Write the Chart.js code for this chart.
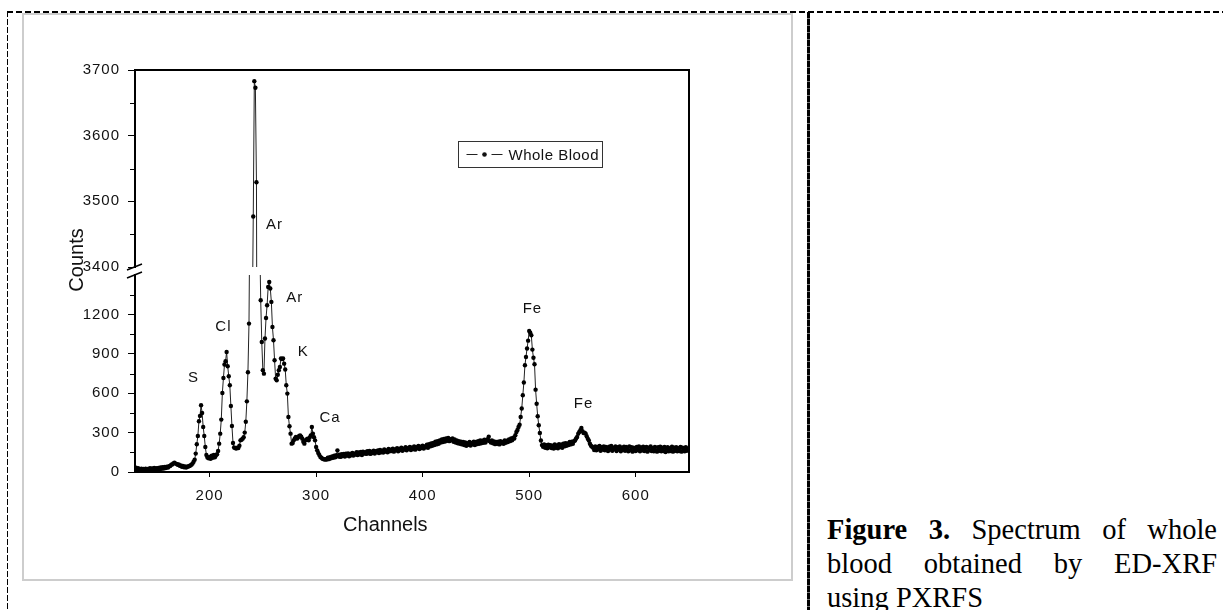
<!DOCTYPE html>
<html>
<head>
<meta charset="utf-8">
<script src="https://cdn.jsdelivr.net/npm/chart.js@4.4.1/dist/chart.umd.min.js"></script>
<style>
  html, body { margin: 0; padding: 0; background: #fff; }
  body { width: 1223px; height: 610px; position: relative; overflow: hidden; }
  .hdash { position: absolute; left: 7px; top: 11px; width: 1216px; height: 2px;
    background: repeating-linear-gradient(to right, #000 0 6px, transparent 6px 9px); }
  .vdash-left { position: absolute; left: 7px; top: 11px; width: 1px; height: 599px;
    background: repeating-linear-gradient(to bottom, #000 0 6px, transparent 6px 8px); }
  .vdash-mid { position: absolute; left: 807px; top: 12px; width: 3px; height: 598px;
    background: repeating-linear-gradient(to bottom, #000 0 6px, #777 6px 7px); }
  .frame { position: absolute; left: 22px; top: 13px; width: 767px; height: 564px; border: 2px solid #cdcdcd; }
  #chart { position: absolute; left: 0; top: 0; }
  .caption { position: absolute; left: 827px; top: 513px; width: 390px;
    font-family: "Liberation Serif", "Times New Roman", serif; font-size: 28.5px; line-height: 34px; color: #000; }
  .caption .j { display: block; text-align: justify; text-align-last: justify; }
  .caption span { display: block; }
</style>
</head>
<body>
<div class="hdash"></div>
<div class="vdash-left"></div>
<div class="vdash-mid"></div>
<div class="frame"></div>
<canvas id="chart" width="800" height="600"></canvas>
<div class="caption">
  <span class="j"><b>Figure 3.</b> Spectrum of whole</span>
  <span class="j">blood obtained by ED-XRF</span>
  <span>using PXRFS</span>
</div>
<script>
// one value per channel, starting at channel 130
const startChannel = 130
const counts = [
    22, 32, 18, 28, 20, 14, 26, 18, 24, 15,
    25, 14, 24, 18, 28, 16, 27, 20, 30, 19,
    28, 22, 30, 20, 34, 24, 36, 26, 38, 30,
    40, 34, 44, 46, 55, 58, 66, 70, 64, 62,
    55, 58, 48, 50, 40, 46, 36, 42, 34, 40,
    42, 46, 50, 56, 64, 78, 94, 140, 211, 274,
    386, 427, 508, 449, 343, 274, 190, 130, 110, 105,
    115, 100, 125, 108, 130, 112, 128, 135, 160, 216,
    292, 399, 602, 716, 818, 843, 914, 805, 729, 660,
    503, 350, 221, 186, 182, 178, 185, 182, 200, 241,
    245, 254, 265, 300, 383, 538, 760, 1130, 2200, 2900,
    3300, 3477, 3683, 3673, 3529, 2900, 2300, 1800, 1308, 990,
    775, 749, 1016, 1173, 1270, 1409, 1447, 1397, 1295, 1104,
    1003, 851, 711, 698, 740, 775, 800, 864, 860, 864,
    825, 780, 660, 597, 419, 348, 292, 216, 221, 241,
    255, 266, 254, 262, 274, 279, 268, 254, 230, 216,
    241, 248, 254, 241, 262, 279, 343, 292, 265, 241,
    190, 165, 145, 130, 114, 108, 101, 98, 95, 97,
    95, 108, 98, 112, 104, 118, 108, 125, 112, 128,
    165, 118, 132, 115, 135, 122, 138, 118, 140, 125,
    142, 120, 138, 128, 146, 125, 140, 132, 150, 130,
    148, 135, 152, 130, 155, 140, 150, 138, 158, 142,
    160, 138, 155, 145, 162, 140, 158, 150, 165, 145,
    168, 150, 162, 148, 172, 155, 165, 150, 175, 158,
    170, 160, 178, 155, 172, 165, 182, 158, 176, 168,
    185, 162, 178, 170, 188, 165, 182, 175, 190, 168,
    185, 175, 195, 170, 188, 180, 198, 175, 192, 182,
    200, 178, 195, 188, 208, 185, 212, 195, 218, 200,
    222, 205, 230, 210, 235, 215, 240, 225, 248, 228,
    252, 232, 255, 238, 260, 235, 250, 242, 255, 230,
    248, 225, 240, 218, 235, 215, 230, 210, 228, 205,
    225, 200, 220, 208, 228, 202, 222, 210, 230, 205,
    228, 212, 235, 215, 240, 218, 238, 222, 245, 225,
    240, 250, 268, 235, 225, 240, 218, 232, 212, 228,
    215, 230, 210, 235, 218, 228, 215, 240, 222, 238,
    228, 248, 235, 255, 242, 262, 255, 280, 305, 320,
    343, 360, 419, 483, 584, 681, 813, 876, 940, 1000,
    1074, 1060, 1041, 932, 870, 820, 627, 520, 424, 356,
    297, 240, 205, 192, 210, 185, 205, 180, 208, 188,
    205, 182, 200, 178, 210, 185, 202, 180, 212, 190,
    208, 185, 215, 195, 220, 200, 218, 205, 228, 210,
    230, 215, 235, 240, 255, 267, 292, 305, 318, 335,
    310, 297, 300, 292, 272, 254, 240, 216, 200, 192,
    185, 168, 195, 165, 190, 172, 198, 162, 188, 170,
    195, 165, 190, 175, 160, 192, 170, 198, 162, 185,
    172, 195, 160, 188, 170, 194, 158, 185, 168, 192,
    162, 190, 170, 158, 195, 165, 188, 155, 185, 170,
    160, 190, 168, 195, 158, 186, 165, 192, 160, 182,
    190, 155, 185, 165, 194, 160, 182, 158, 190, 165,
    155, 188, 162, 192, 158, 185, 160, 190, 152, 180,
    188, 158, 182, 160, 192, 155, 185, 162, 188, 158,
    182, 160, 190, 155, 185, 165, 158, 188, 162, 180,
    170
]
const seriesName = 'Whole Blood'

const xTicks = [200, 300, 400, 500, 600]
const lowerTicks = [0, 300, 600, 900, 1200]
const upperTicks = [3400, 3500, 3600, 3700]
const lowerMinor = [150, 450, 750, 1050, 1350]
const upperMinor = [3450, 3550, 3650]

// peak labels, placed in data units
const peakNames = ['S', 'Cl', 'Ar', 'K', 'Ca', 'Ar', 'Fe', 'Fe']
const peakChannels = [185, 213, 280, 288, 313, 261, 503, 551]
const peakCounts = [716, 1104, 1325, 914, 411, 3464, 1239, 521]

const sans = '"Liberation Sans", Arial, Helvetica, sans-serif'
const ink = '#111'

const channels = counts.map((_, i) => startChannel + i)
const points = channels.map((c, i) => ({x: c, y: counts[i]}))

function fixedTicks(list) {
    return function (scale) {
        scale.ticks = list.map(v => ({value: v}))
    }
}

function yAxis(min, max, ticks, weight, stackWeight) {
    return {
        type: 'linear', position: 'left', stack: 'counts', stackWeight: stackWeight, weight: weight,
        min: min, max: max,
        afterBuildTicks: fixedTicks(ticks),
        afterFit: s => { s.width = 60 },
        grid: {drawOnChartArea: false, tickLength: 7, tickColor: '#000', tickWidth: 1},
        border: {color: '#000', width: 2},
        ticks: {font: {family: sans, size: 15}, color: ink, padding: 8, callback: v => String(v)}
    }
}

const lineStyle = {
    borderColor: '#222', borderWidth: 1,
    pointRadius: 2.2, pointBackgroundColor: '#000', pointBorderWidth: 0,
    tension: 0, clip: 0
}

// Origin-style spaced lettering
const spacing = {
    id: 'spacing',
    beforeLayout(chart) { chart.ctx.letterSpacing = '1px' },
    beforeDraw(chart) { chart.ctx.letterSpacing = '1px' }
}

const decor = {
    id: 'decor',
    afterDraw(chart) {
        const {ctx, chartArea: a, scales} = chart
        const lo = scales.y, hi = scales.yTop, xs = scales.x
        ctx.save()
        ctx.strokeStyle = '#000'
        ctx.lineWidth = 2
        ctx.beginPath()
        ctx.moveTo(a.left - 1, a.top)
        ctx.lineTo(a.right, a.top)
        ctx.lineTo(a.right, a.bottom)
        ctx.stroke()

        ctx.lineWidth = 1
        ctx.beginPath()
        lowerMinor.forEach(v => { const py = Math.round(lo.getPixelForValue(v)) + 0.5; ctx.moveTo(a.left - 5, py); ctx.lineTo(a.left, py) })
        upperMinor.forEach(v => { const py = Math.round(hi.getPixelForValue(v)) + 0.5; ctx.moveTo(a.left - 5, py); ctx.lineTo(a.left, py) })
        ctx.stroke()

        // axis break marks
        ctx.lineWidth = 1.5
        ctx.beginPath()
        ;[hi.bottom, lo.top].forEach(py => { ctx.moveTo(a.left - 8, py + 3); ctx.lineTo(a.left + 7, py - 3) })
        ctx.stroke()

        // peak labels
        ctx.fillStyle = ink
        ctx.letterSpacing = '1px'
        ctx.font = '15px ' + sans
        ctx.textAlign = 'center'
        ctx.textBaseline = 'middle'
        peakNames.forEach((name, i) => {
            const ys = peakCounts[i] > 3000 ? hi : lo
            ctx.fillText(name, xs.getPixelForValue(peakChannels[i]), ys.getPixelForValue(peakCounts[i]))
        })

        // legend
        const bx = a.left + 323.5, by = a.top + 71.5
        ctx.lineWidth = 1
        ctx.strokeStyle = '#333'
        ctx.strokeRect(bx, by, 144, 26)
        const my = by + 13
        ctx.strokeStyle = '#222'
        ctx.beginPath()
        ctx.moveTo(bx + 8, my); ctx.lineTo(bx + 19, my)
        ctx.moveTo(bx + 33, my); ctx.lineTo(bx + 44, my)
        ctx.stroke()
        ctx.beginPath()
        ctx.arc(bx + 26, my, 2.3, 0, Math.PI * 2)
        ctx.fill()
        ctx.letterSpacing = '0.5px'
        ctx.font = '15px ' + sans
        ctx.textAlign = 'left'
        ctx.fillText(seriesName, bx + 50, my + 1)

        // axis titles
        ctx.letterSpacing = '0px'
        ctx.font = '20px ' + sans
        ctx.textAlign = 'center'
        ctx.fillText('Channels', xs.getPixelForValue(365), a.bottom + 53)
        ctx.translate(a.left - 58, a.top + 190)
        ctx.rotate(-Math.PI / 2)
        ctx.fillText('Counts', 0, 0)
        ctx.restore()
    }
}

new Chart(document.getElementById('chart'), {
    type: 'line',
    data: {
        datasets: [
            Object.assign({label: seriesName, data: points, yAxisID: 'y'}, lineStyle),
            Object.assign({label: seriesName, data: points, yAxisID: 'yTop'}, lineStyle)
        ]
    },
    options: {
        responsive: false,
        animation: false,
        layout: {padding: {left: 75, right: 111, top: 70, bottom: 88}},
        plugins: {legend: {display: false}, tooltip: {enabled: false}},
        scales: {
            x: {
                type: 'linear', min: 130, max: 650,
                afterBuildTicks: fixedTicks(xTicks),
                afterFit: s => { s.height = 40 },
                grid: {drawOnChartArea: false, tickLength: 5, tickColor: '#000', tickWidth: 1},
                border: {color: '#000', width: 2},
                ticks: {font: {family: sans, size: 15}, color: ink, padding: 10, maxRotation: 0, callback: v => String(v)}
            },
            yTop: yAxis(3400, 3700, upperTicks, 3, 197),
            yGap: {type: 'linear', position: 'left', stack: 'counts', stackWeight: 8, weight: 2, display: false},
            y: yAxis(0, 1500, lowerTicks, 1, 197)
        }
    },
    plugins: [spacing, decor]
})
</script>
</body>
</html>
